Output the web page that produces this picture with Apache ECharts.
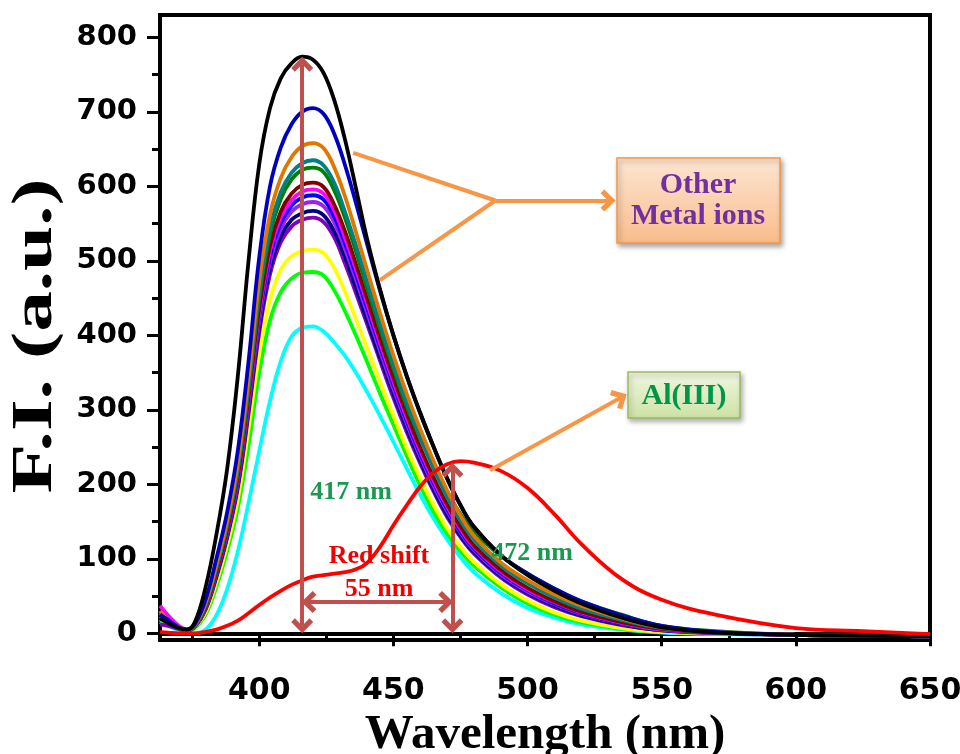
<!DOCTYPE html>
<html>
<head>
<meta charset="utf-8">
<script src="https://cdn.jsdelivr.net/npm/echarts@6/dist/echarts.min.js"></script>
<style>html,body{margin:0;padding:0;background:#fff}#main{width:960px;height:754px}</style>
</head>
<body>
<div id="main"></div>
<script>
// wavelength (nm) grid shared by all spectra
var wavelength = [363, 366, 370, 373, 376, 380, 384, 388, 392, 396, 400, 404, 408, 412, 416, 420, 424, 428, 432, 436, 440, 445, 450, 455, 460, 465, 470, 475, 480, 490, 500, 510, 520, 535, 550, 570, 600, 625, 650];

// fluorescence intensity (a.u.)
var black = [20, 14, 7, 5, 15, 62, 132, 220, 345, 500, 630, 705, 745, 765, 774, 770, 752, 715, 662, 598, 532, 462, 400, 345, 296, 250, 208, 172, 143, 105, 78, 57, 40, 21, 8, 1, -2, -3, -4];
var blue = [25, 18, 8, 5, 12, 45, 100, 162, 245, 365, 505, 600, 652, 683, 700, 705, 697, 670, 628, 578, 525, 460, 400, 345, 295, 250, 208, 172, 143, 105, 80, 60, 43, 24, 10, 2, -2, -3, -4];
var orange = [30, 17, 8, 5, 11, 41, 92, 151, 229, 343, 473, 562, 611, 639, 654, 658, 651, 625, 586, 539, 490, 430, 373, 321, 274, 231, 192, 158, 131, 95, 71, 52, 37, 20, 8, 2, -2, -3, -4];
var teal = [27, 16, 7, 4, 11, 39, 88, 146, 221, 332, 457, 544, 592, 618, 631, 635, 628, 604, 565, 521, 474, 415, 360, 309, 263, 221, 183, 151, 126, 91, 67, 48, 33, 18, 7, 1, -2, -3, -4];
var darkGreen = [23, 16, 7, 4, 10, 38, 87, 144, 218, 327, 450, 536, 583, 609, 622, 625, 619, 594, 557, 513, 466, 409, 355, 304, 262, 224, 190, 160, 136, 104, 80, 60, 43, 25, 10, 3, -2, -3, -4];
var maroon = [22, 15, 7, 4, 10, 36, 83, 139, 211, 318, 437, 520, 566, 590, 602, 605, 599, 575, 539, 496, 451, 396, 343, 294, 249, 209, 173, 143, 118, 85, 61, 43, 29, 15, 6, 1, -2, -3, -4];
var magenta = [37, 24, 10, 5, 10, 35, 82, 137, 208, 313, 430, 513, 558, 581, 593, 596, 590, 567, 530, 489, 445, 390, 338, 289, 245, 205, 170, 140, 116, 83, 59, 42, 28, 14, 5, 1, -2, -3, -4];
var blue2 = [22, 15, 7, 4, 10, 35, 80, 135, 205, 310, 425, 506, 551, 574, 585, 588, 582, 559, 523, 482, 439, 385, 334, 285, 241, 202, 167, 137, 114, 81, 58, 40, 27, 13, 5, 1, -2, -3, -4];
var violet = [22, 15, 7, 4, 9, 34, 79, 133, 202, 305, 419, 499, 543, 566, 576, 579, 573, 551, 515, 475, 432, 379, 328, 281, 237, 198, 164, 135, 112, 79, 56, 39, 26, 13, 5, 1, -2, -3, -4];
var navy = [21, 14, 7, 4, 9, 33, 77, 130, 198, 300, 411, 490, 533, 555, 564, 567, 561, 539, 505, 465, 423, 371, 322, 275, 232, 193, 159, 131, 109, 77, 54, 37, 24, 12, 4, 1, -2, -3, -4];
var purple = [12, 10, 6, 3, 9, 32, 75, 128, 195, 295, 404, 482, 525, 546, 555, 558, 552, 531, 496, 457, 417, 366, 316, 270, 228, 190, 156, 129, 107, 75, 52, 35, 23, 11, 4, 0, -2, -3, -4];
var yellow = [20, 13, 6, 3, 8, 28, 68, 118, 180, 275, 375, 448, 488, 506, 513, 515, 510, 490, 458, 422, 385, 338, 292, 248, 208, 172, 141, 116, 96, 66, 44, 28, 17, 7, 2, 0, -2, -3, -4];
var green = [18, 12, 5, 3, 7, 25, 62, 110, 168, 252, 350, 420, 458, 476, 484, 485, 480, 460, 432, 400, 366, 322, 280, 238, 198, 163, 134, 110, 91, 62, 40, 25, 15, 6, 2, 0, -2, -3, -4];
var cyan = [15, 10, 4, 1, 0, 5, 24, 59, 110, 175, 245, 312, 365, 398, 410, 412, 405, 390, 372, 350, 325, 292, 257, 221, 186, 154, 126, 102, 82, 54, 34, 21, 12, 5, 1, -1, -2, -3, -4];
var alRed = [2, 1, 0, 0, 0, 2, 5, 10, 17, 27, 38, 48, 57, 65, 71, 76, 78, 80, 82, 86, 94, 116, 145, 172, 197, 216, 227, 231, 229, 218, 195, 160, 120, 73, 45, 25, 7, 3, -1];

// tick values
var xMajor = [400, 450, 500, 550, 600, 650];
var xMinor = [375, 425, 475, 525, 575, 625];
var yMajor = [0, 100, 200, 300, 400, 500, 600, 700, 800];
var yMinor = [50, 150, 250, 350, 450, 550, 650, 750];

// drawing order: back to front
var curves = [
  {data: cyan, color: '#00FFFF'},
  {data: green, color: '#00FF00'},
  {data: yellow, color: '#FFFF00'},
  {data: purple, color: '#8000C0'},
  {data: navy, color: '#000080'},
  {data: violet, color: '#A020F0'},
  {data: blue2, color: '#0000FF'},
  {data: magenta, color: '#FF00FF'},
  {data: maroon, color: '#800000'},
  {data: darkGreen, color: '#007F00'},
  {data: teal, color: '#008080'},
  {data: orange, color: '#E07800'},
  {data: blue, color: '#0000C0'},
  {data: black, color: '#000000'},
  {data: alRed, color: '#FF0000'}
];

function pairs(arr) {
  var out = [];
  for (var i = 0; i < wavelength.length; i++) out.push([wavelength[i], arr[i]]);
  return out;
}

var chevron = 'path://M12,0 L24,12 L20,16 L12,8 L4,16 L0,12 Z';
var brown = {color: '#C0504D', width: 4, type: 'solid'};
var orangeLn = {color: '#F79646', width: 4, type: 'solid'};

function arrowLine(a, b, style, s0, s1) {
  return [
    {coord: a, symbol: s0 ? chevron : 'none', symbolSize: [22, 15], lineStyle: style, itemStyle: {color: style.color}},
    {coord: b, symbol: s1 ? chevron : 'none', symbolSize: [22, 15], itemStyle: {color: style.color}}
  ];
}

var series = [];
for (var i = 0; i < curves.length; i++) {
  series.push({
    type: 'line',
    data: pairs(curves[i].data),
    smooth: 0.4,
    showSymbol: false,
    silent: true,
    lineStyle: {color: curves[i].color, width: 3.8},
    z: 2 + i
  });
}
series[series.length - 1].markLine = {
  silent: true,
  animation: false,
  label: {show: false},
  z: 30,
  data: [
    arrowLine([416, 10], [416, 764], brown, true, true),
    arrowLine([472, 10], [472, 219], brown, true, true),
    arrowLine([418.5, 42], [469.5, 42], brown, true, true),
    arrowLine([435, 645], [488, 581], orangeLn, false, false),
    arrowLine([445, 474], [488, 581], orangeLn, false, false),
    arrowLine([488, 581], [530, 581], orangeLn, false, true),
    arrowLine([486, 219], [534.5, 316], orangeLn, false, true)
  ]
};

var myChart = echarts.init(document.getElementById('main'));
var option = {
  animation: false,
  backgroundColor: '#fff',
  grid: {left: 160, right: 30, top: 15, bottom: 114, outerBoundsMode: 'none', containLabel: false,
    show: true, borderColor: '#000', borderWidth: 4},
  xAxis: [{
    type: 'value', min: 363, max: 650,
    axisLine: {lineStyle: {color: '#000', width: 4}},
    axisTick: {customValues: xMajor, length: 13, lineStyle: {color: '#000', width: 3}},
    axisLabel: {customValues: xMajor, color: '#000', fontFamily: 'DejaVu Sans', fontWeight: 'bold', fontSize: 30, margin: 36},
    splitLine: {show: false},
    name: 'Wavelength (nm)', nameLocation: 'middle', nameGap: 59,
    nameTextStyle: {color: '#000', fontFamily: 'Liberation Serif', fontWeight: 'bold', fontSize: 49}
  }, {
    type: 'value', min: 363, max: 650, position: 'bottom',
    axisLine: {show: false},
    axisTick: {customValues: xMinor, length: 8, lineStyle: {color: '#000', width: 3}},
    axisLabel: {show: false},
    splitLine: {show: false}
  }],
  yAxis: [{
    type: 'value', min: -9, max: 830,
    axisLine: {lineStyle: {color: '#000', width: 4}},
    axisTick: {customValues: yMajor, length: 13, lineStyle: {color: '#000', width: 3}},
    axisLabel: {customValues: yMajor, color: '#000', fontFamily: 'DejaVu Sans', fontWeight: 'bold', fontSize: 29, margin: 23},
    splitLine: {show: false}
  }, {
    type: 'value', min: -9, max: 830, position: 'left',
    axisLine: {show: false},
    axisTick: {customValues: yMinor, length: 8, lineStyle: {color: '#000', width: 3}},
    axisLabel: {show: false},
    splitLine: {show: false}
  }],
  series: series,
  graphic: [
    // y axis title, stretched along its length like the original
    {type: 'text', z: 101, x: 36, y: 336, rotation: Math.PI / 2, scaleX: 1.4,
      style: {text: 'F.I. (a.u.)', fill: '#000', font: 'bold 58px "Liberation Serif"', align: 'center', verticalAlign: 'middle'}},
    {type: 'rect', z: 100, shape: {x: 617, y: 158, width: 163, height: 85},
      style: {fill: new echarts.graphic.LinearGradient(0, 0, 0, 1, [{offset: 0, color: '#FDE6D3'}, {offset: 1, color: '#F9BC8C'}]),
        stroke: '#F79646', lineWidth: 1.5, shadowBlur: 5, shadowOffsetX: 2, shadowOffsetY: 3, shadowColor: 'rgba(0,0,0,0.35)'}},
    {type: 'text', z: 101, x: 698, y: 201,
      style: {text: 'Other\nMetal ions', fill: '#7030A0', font: 'bold 30px "Liberation Serif"', align: 'center', verticalAlign: 'middle', lineHeight: 31}},
    {type: 'rect', z: 100, shape: {x: 628, y: 372, width: 112, height: 46},
      style: {fill: new echarts.graphic.LinearGradient(0, 0, 0, 1, [{offset: 0, color: '#F0F6E2'}, {offset: 1, color: '#CDE2A4'}]),
        stroke: '#9BBB59', lineWidth: 1.5, shadowBlur: 5, shadowOffsetX: 2, shadowOffsetY: 3, shadowColor: 'rgba(0,0,0,0.3)'}},
    {type: 'text', z: 101, x: 684, y: 396,
      style: {text: 'Al(III)', fill: '#00964A', font: 'bold 30px "Liberation Serif"', align: 'center', verticalAlign: 'middle'}},
    {type: 'text', z: 101, x: 351, y: 492,
      style: {text: '417 nm', fill: '#1A9A50', font: 'bold 26px "Liberation Serif"', align: 'center', verticalAlign: 'middle'}},
    {type: 'text', z: 101, x: 532, y: 553,
      style: {text: '472 nm', fill: '#1A9A50', font: 'bold 26px "Liberation Serif"', align: 'center', verticalAlign: 'middle'}},
    {type: 'text', z: 101, x: 379, y: 556,
      style: {text: 'Red shift', fill: '#F00000', font: 'bold 26px "Liberation Serif"', align: 'center', verticalAlign: 'middle'}},
    {type: 'text', z: 101, x: 379, y: 589,
      style: {text: '55 nm', fill: '#F00000', font: 'bold 26px "Liberation Serif"', align: 'center', verticalAlign: 'middle'}}
  ]
};
myChart.setOption(option);
</script>
</body>
</html>
